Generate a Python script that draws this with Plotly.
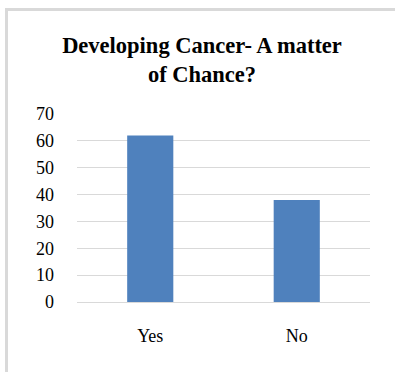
import plotly.graph_objects as go

categories = ["Yes", "No"]
values = [62, 38]
y_ticks = [0, 10, 20, 30, 40, 50, 60, 70]

W, H = 395, 372
L, R, T, B = 77, 25, 114, 70
pw, ph = W - L - R, H - T - B

def px_x(x):
    return (x - L) / pw

def px_y(y):
    return (H - B - y) / ph

fig = go.Figure(
    go.Bar(
        x=categories,
        y=values,
        marker=dict(color="#4f81bd", line=dict(width=0)),
        width=0.315,
    )
)

# light grey chart frame, open to the right and bottom
frame = "#d9d9d9"
fig.add_shape(type="line", xref="paper", yref="paper",
              x0=px_x(6.5), x1=px_x(W + 5), y0=px_y(9.5), y1=px_y(9.5),
              line=dict(color=frame, width=3))
fig.add_shape(type="line", xref="paper", yref="paper",
              x0=px_x(6.5), x1=px_x(6.5), y0=px_y(8), y1=px_y(H + 5),
              line=dict(color=frame, width=3))

fig.update_layout(
    width=W,
    height=H,
    margin=dict(l=L, r=R, t=T, b=B),
    paper_bgcolor="white",
    plot_bgcolor="white",
    font=dict(family="Liberation Serif, Times New Roman, serif", color="#000000", size=18),
    title=dict(
        text="<b>Developing Cancer- A matter<br>of Chance?</b>",
        x=202 / W,
        xanchor="center",
        xref="container",
        y=1 - 53 / H,
        yanchor="top",
        font=dict(size=22.5, family="Liberation Serif, Times New Roman, serif", color="#000000"),
    ),
    showlegend=False,
    bargap=0.685,
)

fig.update_yaxes(
    range=[0, 70],
    tickvals=y_ticks,
    showgrid=True,
    gridcolor="#d9d9d9",
    gridwidth=1.3,
    zeroline=False,
    showline=False,
    ticks="",
    ticklabelstandoff=22,
    tickfont=dict(size=18),
)
fig.update_xaxes(
    showline=True,
    linecolor="#d9d9d9",
    linewidth=1.3,
    ticks="",
    ticklabelstandoff=17,
    tickfont=dict(size=18),
)

fig.write_html("out.html")
